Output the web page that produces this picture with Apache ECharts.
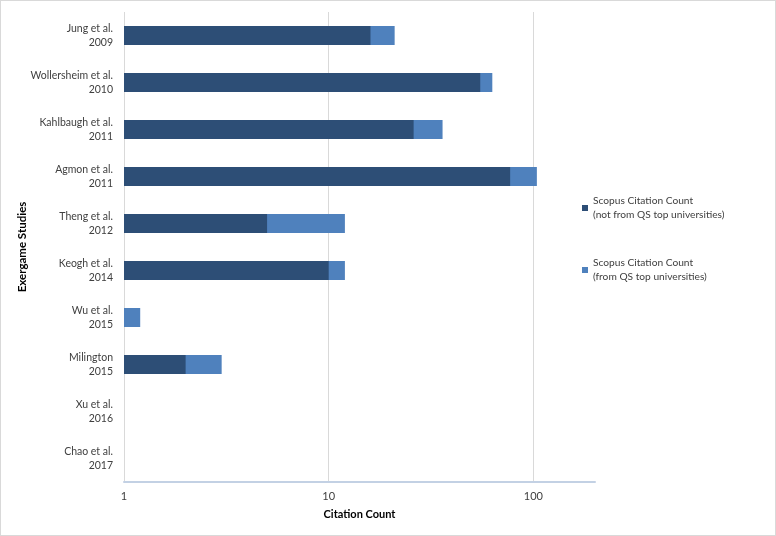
<!DOCTYPE html>
<html>
<head>
<meta charset="utf-8">
<script src="https://cdn.jsdelivr.net/npm/echarts@6/dist/echarts.min.js"></script>
<style>
html,body{margin:0;padding:0;background:#fff;}
#c{width:774px;height:534px;border:1px solid #d9d9d9;}
</style>
</head>
<body>
<div id="c"></div>
<script>
const categories = ['Jung et al.\n2009','Wollersheim et al.\n2010','Kahlbaugh et al.\n2011','Agmon et al.\n2011','Theng et al.\n2012','Keogh et al.\n2014','Wu et al.\n2015','Milington\n2015','Xu et al.\n2016','Chao et al.\n2017'];
const notFromTop = [16, 55, 26, 77, 5, 10, 0, 2, 0, 0];
const fromTop = [5, 8, 10, 27, 7, 2, 1.2, 1, 0, 0];
const xTicks = [1, 10, 100];
const seriesNames = ['Scopus Citation Count\n(not from QS top universities)', 'Scopus Citation Count\n(from QS top universities)'];

// stacked totals (light segment drawn as the full total, dark segment overlaid)
const totals = notFromTop.map((v, i) => v + fromTop[i]);

const font = 'Lato, "Open Sans", sans-serif';
const chart = echarts.init(document.getElementById('c'));
chart.setOption({
  animation: false,
  textStyle: { fontFamily: font },
  grid: { left: 123, right: 180, top: 11, bottom: 53, containLabel: false, outerBoundsMode: 'none' },
  legend: {
    orient: 'vertical', left: 576, top: 181, itemGap: 20,
    itemWidth: 6, itemHeight: 6, icon: 'rect',
    textStyle: { fontSize: 10.2, color: '#404040', lineHeight: 14, padding: [14, 0, 0, 0], fontFamily: font },
    data: seriesNames
  },
  xAxis: {
    type: 'log', logBase: 10, min: 1, max: 200,
    name: 'Citation Count', nameLocation: 'middle', nameGap: 27,
    nameTextStyle: { fontWeight: 'bold', fontSize: 11, color: '#000', fontFamily: font },
    axisLine: { show: true, lineStyle: { color: '#c3d1e4', width: 2 } },
    axisTick: { show: false },
    axisLabel: { fontSize: 11, color: '#404040', margin: 9, fontFamily: font,
      formatter: v => xTicks.indexOf(Math.round(v)) >= 0 && Math.abs(v - Math.round(v)) < 1e-6 ? String(Math.round(v)) : '' },
    splitLine: { show: true, lineStyle: { color: ['#d9d9d9', '#d9d9d9', '#d9d9d9', 'rgba(0,0,0,0)'], width: 1 } }
  },
  yAxis: {
    type: 'category', inverse: true, data: categories,
    name: 'Exergame Studies', nameLocation: 'middle', nameGap: 96, nameRotate: 90, nameMoveOverlap: false,
    nameTextStyle: { fontWeight: 'bold', fontSize: 11.5, color: '#000', fontFamily: font },
    axisLine: { show: false }, axisTick: { show: false },
    axisLabel: { fontSize: 10.5, color: '#404040', lineHeight: 14, margin: 11, align: 'right', fontFamily: font },
    splitLine: { show: false }
  },
  series: [
    { name: seriesNames[1], type: 'bar', barWidth: 19,
      itemStyle: { color: '#4f81bd' },
      data: totals.map(v => v > 0 ? v : '-') },
    { name: seriesNames[0], type: 'bar', barWidth: 19, barGap: '-100%',
      itemStyle: { color: '#2d4e76' },
      data: notFromTop.map(v => v > 0 ? v : '-') }
  ]
});
</script>
</body>
</html>
